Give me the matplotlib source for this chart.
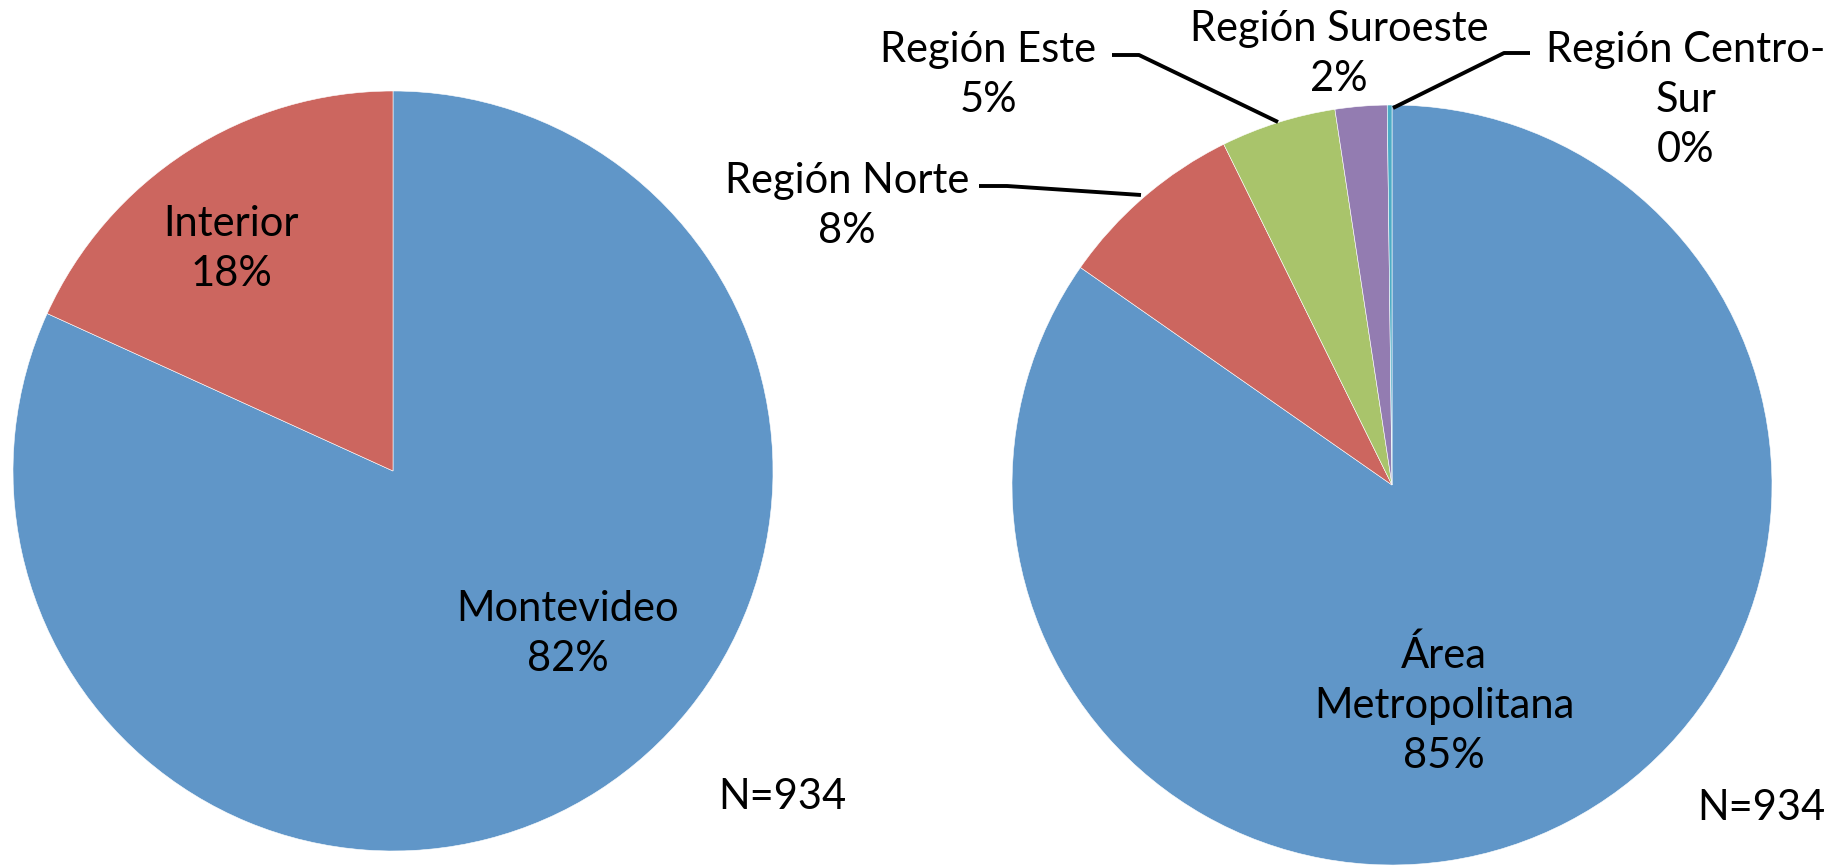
import matplotlib
matplotlib.use("Agg")
import matplotlib.pyplot as plt

# data
left_labels = ["Montevideo", "Interior"]
left_values = [81.8, 18.2]
right_labels = ["Área\nMetropolitana", "Región Norte", "Región Este", "Región Suroeste", "Región Centro-\nSur"]
right_values = [84.7, 8.0, 4.9, 2.2, 0.2]
n_text = "N=934"

blue = "#6096C8"
red = "#CC665F"
green = "#A9C46B"
purple = "#937CB1"
cyan = "#4BACC6"

W, H = 1845, 866
plt.rcParams['font.family'] = ['Lato', 'DejaVu Sans']
FS = 30
LS = 1.38

fig = plt.figure(figsize=(W / 100, H / 100), dpi=100)
ax = fig.add_axes([0, 0, 1, 1])
ax.set_xlim(0, W)
ax.set_ylim(0, H)
ax.set_aspect("equal")
ax.axis("off")

R = 380
wl, _ = ax.pie(left_values, colors=[blue, red], startangle=90, counterclock=False,
               center=(393, H - 471), radius=R,
               wedgeprops=dict(edgecolor="white", linewidth=0.4))
wr, _ = ax.pie(right_values, colors=[blue, red, green, purple, cyan], startangle=90,
               counterclock=False, center=(1392, H - 485), radius=R,
               wedgeprops=dict(edgecolor="white", linewidth=0.4))
ax.set_xlim(0, W)
ax.set_ylim(0, H)


def pct(v):
    return "%d%%" % round(v)


def label(x, y, s):
    ax.text(x, H - y, s, ha="center", va="center", fontsize=FS, linespacing=LS, color="black")


label(568, 634, left_labels[0] + "\n" + pct(left_values[0]))
label(231, 249, left_labels[1] + "\n" + pct(left_values[1]))
label(1444, 705, right_labels[0] + "\n" + pct(right_values[0]))
label(847, 206, right_labels[1] + "\n" + pct(right_values[1]))
label(988, 75, right_labels[2] + "\n" + pct(right_values[2]))
label(1339, 54, right_labels[3] + "\n" + pct(right_values[3]))
label(1686, 100, right_labels[4] + "\n" + pct(right_values[4]))

label(782, 797, n_text)
label(1761, 808, n_text)

# leader lines
for pts in [[(979, 186), (1007, 186), (1141, 195)],
            [(1112, 55), (1139, 55), (1278, 122)],
            [(1530, 53), (1504, 53), (1393, 108)]]:
    xs = [p[0] for p in pts]
    ys = [H - p[1] for p in pts]
    ax.plot(xs, ys, color="black", lw=2.8, solid_capstyle="butt")

fig.savefig("out.png", dpi=100)
